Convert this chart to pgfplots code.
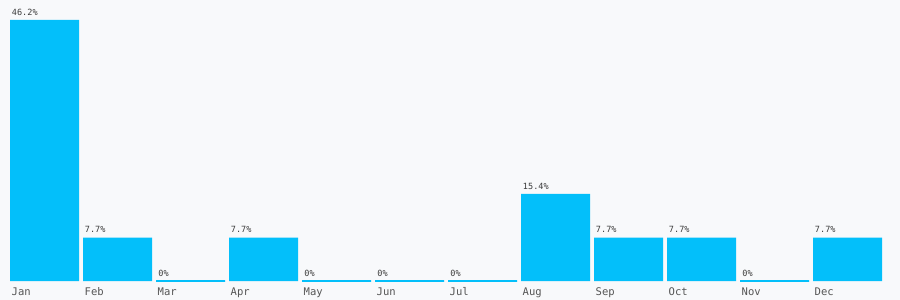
\documentclass[border=0pt]{standalone}
\usepackage{pgfplots}
\pgfplotsset{compat=1.18}
\usepackage{pgfplotstable}
\usepackage{fontspec}
\setmainfont{DejaVu Sans Mono}
\definecolor{bgc}{HTML}{F8F9FB}
\definecolor{barc}{HTML}{03BFFA}
\definecolor{txtc}{HTML}{3C3C3C}
\definecolor{labc}{HTML}{555555}
\pgfplotstableread{
idx val lab
0 46.2 46.2
1 7.7 7.7
3 7.7 7.7
7 15.4 15.4
8 7.7 7.7
9 7.7 7.7
11 7.7 7.7
}\nonzero
\pgfplotstableread{
idx val lab
2 0 0
4 0 0
5 0 0
6 0 0
10 0 0
}\zero
\begin{document}
\begin{tikzpicture}
\fill[bgc] (0,0) rectangle (675pt,225pt);
\useasboundingbox (0,0) rectangle (675pt,225pt);
\begin{axis}[
  at={(0pt,14.25pt)}, anchor=south west,
  scale only axis, width=675pt, height=210.75pt,
  xmin=-0.6096, xmax=11.719, ymin=0, ymax=49.74,
  axis line style={draw=none}, major tick length=0pt,
  ytick=\empty,
  xtick={0,...,11},
  xticklabels={Jan,Feb,Mar,Apr,May,Jun,Jul,Aug,Sep,Oct,Nov,Dec},
  xticklabel style={anchor=north west, xshift=-24.8pt, yshift=-4.8pt, font=\fontsize{7.9pt}{8pt}\selectfont, text=labc, inner sep=0pt},
  ybar, bar width=51.75pt, bar shift=0pt, clip=false,
  point meta=explicit symbolic,
  nodes near coords={\pgfplotspointmeta\%},
  every node near coord/.append style={anchor=base west, xshift=-24.6pt, yshift=3.6pt, inner sep=0pt, font=\fontsize{6.4pt}{7pt}\selectfont, text=txtc},
]
\addplot[fill=barc, draw=none, bar shift=0pt] table[x=idx, y=val, meta=lab] {\nonzero};
\addplot[fill=barc, draw=barc, line width=1.1pt, bar shift=0pt] table[x=idx, y=val, meta=lab] {\zero};
\end{axis}
\end{tikzpicture}
\end{document}
